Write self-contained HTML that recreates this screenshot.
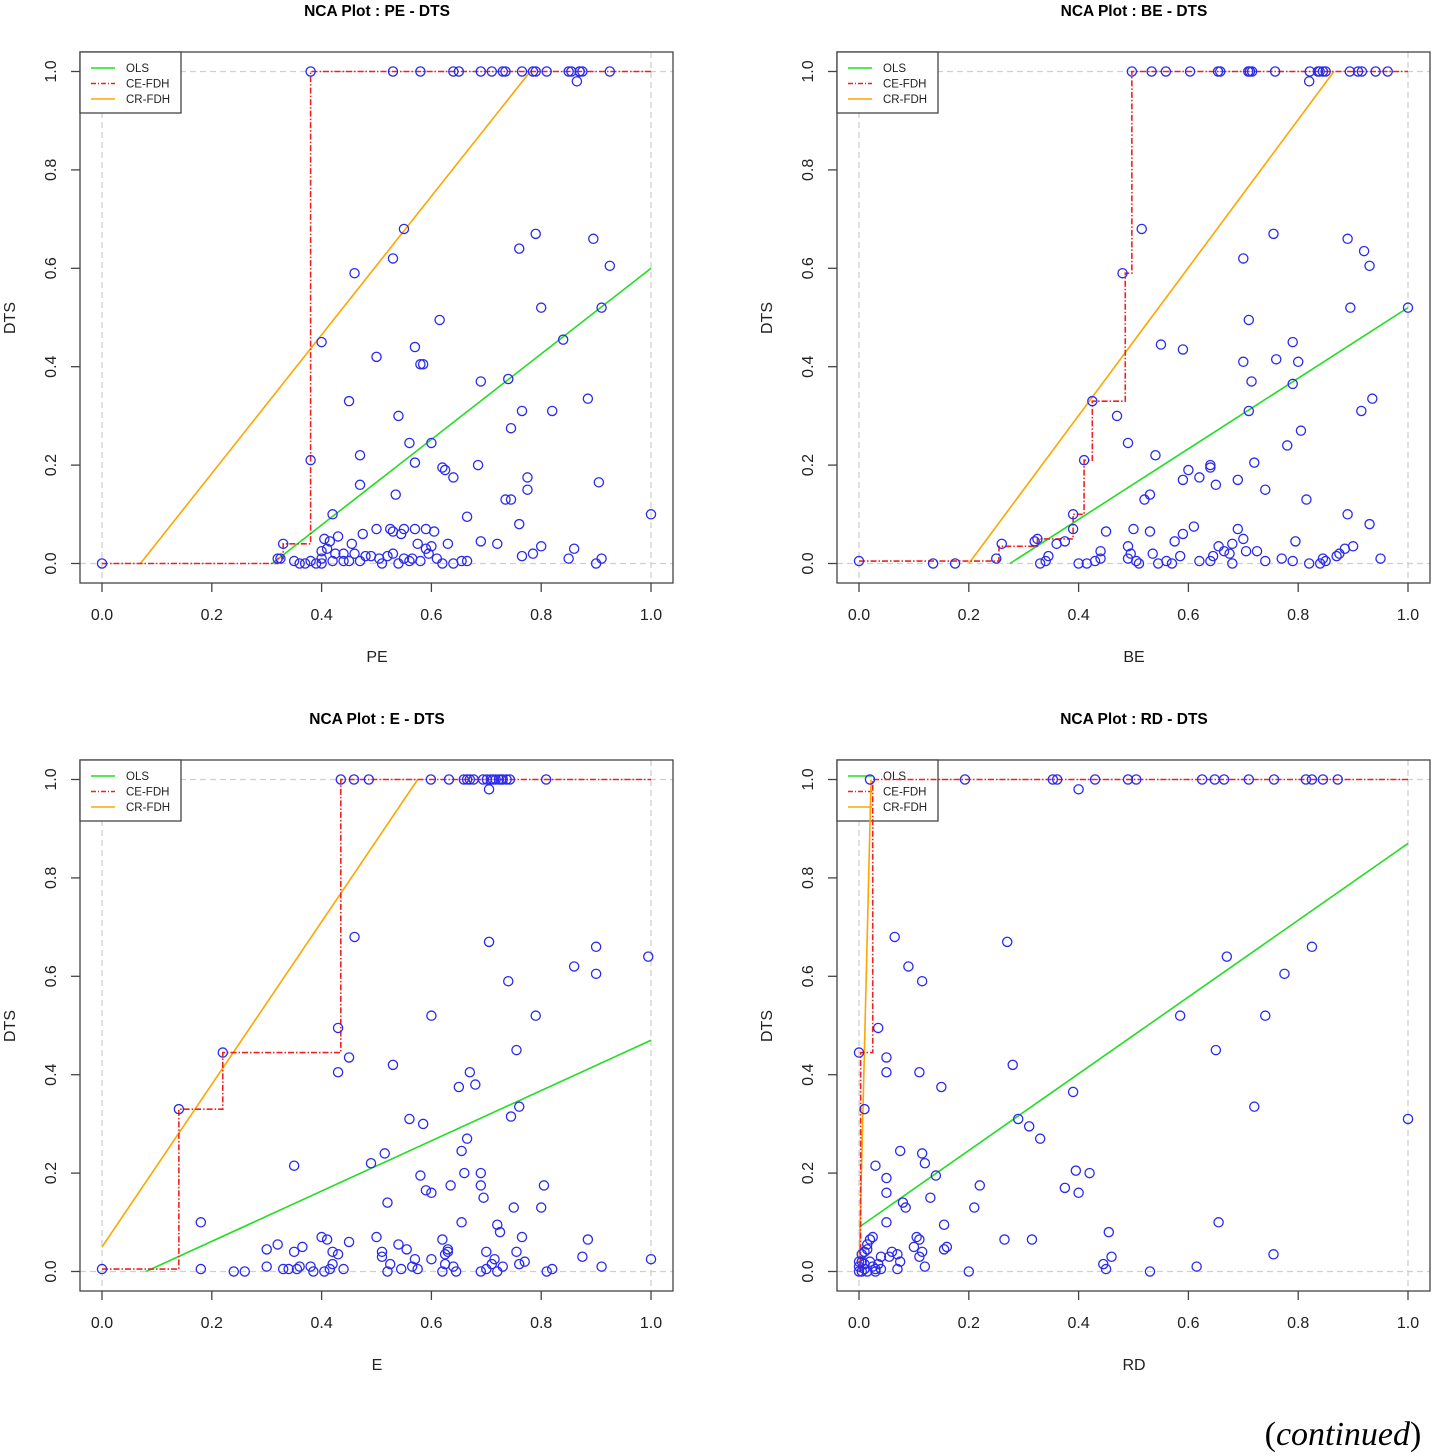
<!DOCTYPE html>
<html><head><meta charset="utf-8"><style>
html,body{margin:0;padding:0;background:#fff;}
svg{display:block;font-family:"Liberation Sans",sans-serif;}
</style></head><body>
<svg id="chart" width="1435" height="1456" viewBox="0 0 1435 1456" xmlns="http://www.w3.org/2000/svg">
<text x="1343" y="1445" text-anchor="middle" font-family="Liberation Serif, serif" font-size="34">(<tspan font-style="italic">continued</tspan>)</text>
</svg>
<script>
const titles = ["NCA Plot : PE - DTS","NCA Plot : BE - DTS","NCA Plot : E - DTS","NCA Plot : RD - DTS"];
const xLabels = ["PE","BE","E","RD"];
const tickVals = [0,0.2,0.4,0.6,0.8,1.0];
const tickLabels = ["0.0","0.2","0.4","0.6","0.8","1.0"];

const pePoints = [[.38,1],[.53,1],[.58,1],[.64,1],[.65,1],[.69,1],[.71,1],[.73,1],[.735,1],[.765,1],[.785,1],[.79,1],[.81,1],[.85,1],[.855,1],[.87,1],[.87,1],[.875,1],[.925,1],[.865,.98],
[0,0],[.38,.21],[.33,.04],[.32,.01],[.325,.01],[.40,.45],[.46,.59],[.53,.62],[.55,.68],[.45,.33],[.5,.42],[.57,.44],[.58,.405],[.585,.405],[.615,.495],[.54,.3],[.56,.245],[.6,.245],[.47,.22],[.57,.205],[.62,.195],[.625,.19],[.64,.175],[.47,.16],[.535,.14],[.42,.1],[.69,.37],[.685,.2],[.74,.375],[.76,.64],[.79,.67],[.8,.52],[.84,.455],[.895,.66],[.925,.605],[.91,.52],[.765,.31],[.82,.31],[.885,.335],[.745,.275],[.775,.175],[.775,.15],[.735,.13],[.745,.13],[.905,.165],[1.0,.1],[.76,.08],[.665,.095],[.69,.045],[.72,.04],[.8,.035],[.86,.03],[.785,.02],[.765,.015],[.85,.01],[.91,.01],[.9,0],[.35,.005],[.37,0],[.38,.005],[.39,0],[.40,.01],[.40,.025],[.41,.03],[.405,.05],[.415,.045],[.42,.005],[.425,.02],[.43,.055],[.44,.02],[.45,.005],[.455,.04],[.46,.02],[.47,.005],[.475,.06],[.48,.015],[.49,.015],[.5,.07],[.505,.01],[.51,0],[.52,.015],[.525,.07],[.53,.02],[.54,0],[.545,.06],[.55,.07],[.55,.01],[.56,.005],[.565,.01],[.57,.07],[.575,.04],[.58,.005],[.59,.07],[.59,.03],[.595,.02],[.6,.035],[.605,.065],[.61,.01],[.62,0],[.63,.04],[.64,0],[.655,.005],[.665,.005],[.36,0],[.4,0],[.44,.005],[.53,.065]];
const bePoints = [[.497,1],[.533,1],[.559,1],[.603,1],[.654,1],[.658,1],[.709,1],[.712,1],[.716,1],[.758,1],[.821,1],[.836,1],[.839,1],[.845,1],[.85,1],[.894,1],[.909,1],[.916,1],[.941,1],[.963,1],[.82,.98],
[0,.005],[.135,0],[.175,0],[.25,.01],[.26,.04],[.32,.045],[.325,.05],[.33,0],[.34,.005],[.345,.015],[.36,.04],[.375,.045],[.39,.07],[.39,.1],[.41,.21],[.425,.33],[.415,0],[.4,0],[.43,.005],[.44,.01],[.44,.025],[.45,.065],[.47,.3],[.48,.59],[.49,.245],[.49,.035],[.495,.02],[.5,.07],[.51,0],[.515,.68],[.52,.13],[.53,.14],[.54,.22],[.53,.065],[.535,.02],[.545,0],[.55,.445],[.59,.435],[.59,.17],[.6,.19],[.62,.175],[.64,.2],[.64,.195],[.65,.16],[.575,.045],[.585,.015],[.59,.06],[.61,.075],[.62,.005],[.64,.005],[.645,.015],[.655,.035],[.665,.025],[.675,.02],[.68,0],[.69,.07],[.7,.62],[.71,.495],[.715,.37],[.71,.31],[.7,.41],[.72,.205],[.69,.17],[.725,.025],[.74,.005],[.74,.15],[.755,.67],[.76,.415],[.77,.01],[.78,.24],[.79,.365],[.79,.45],[.8,.41],[.805,.27],[.815,.13],[.79,.005],[.795,.045],[.82,0],[.84,0],[.845,.01],[.85,.005],[.87,.015],[.875,.02],[.885,.03],[.89,.1],[.895,.52],[.89,.66],[.915,.31],[.92,.635],[.93,.605],[.935,.335],[.93,.08],[.9,.035],[.95,.01],[1.0,.52],[.7,.05],[.705,.025],[.68,.04],[.56,.005],[.57,0],[.505,.005],[.49,.01]];
const ePoints = [[.435,1],[.459,1],[.486,1],[.599,1],[.632,1],[.659,1],[.665,1],[.67,1],[.677,1],[.694,1],[.701,1],[.708,1],[.712,1],[.717,1],[.723,1],[.727,1],[.73,1],[.737,1],[.743,1],[.809,1],[.705,.98],
[0,.005],[.14,.33],[.22,.445],[.18,.1],[.18,.005],[.43,.495],[.43,.405],[.45,.435],[.46,.68],[.35,.215],[.42,.04],[.3,.045],[.3,.01],[.24,0],[.26,0],[.32,.055],[.33,.005],[.34,.005],[.35,.04],[.355,.005],[.36,.01],[.365,.05],[.38,.01],[.385,0],[.4,.07],[.405,0],[.41,.065],[.415,.005],[.42,.015],[.43,.035],[.44,.005],[.45,.06],[.49,.22],[.5,.07],[.51,.04],[.51,.03],[.52,0],[.525,.015],[.515,.24],[.52,.14],[.53,.42],[.54,.055],[.545,.005],[.555,.045],[.56,.31],[.565,.01],[.57,.025],[.575,.005],[.58,.195],[.585,.3],[.59,.165],[.6,.52],[.6,.16],[.6,.025],[.62,0],[.625,.015],[.63,.045],[.63,.04],[.635,.175],[.64,.01],[.645,0],[.65,.375],[.655,.245],[.66,.2],[.665,.27],[.67,.405],[.68,.38],[.69,.2],[.69,.175],[.695,.15],[.69,0],[.7,.005],[.705,.67],[.71,.015],[.715,.025],[.72,.095],[.725,.08],[.73,.01],[.74,.59],[.745,.315],[.75,.13],[.755,.45],[.76,.335],[.755,.04],[.76,.015],[.77,.02],[.79,.52],[.8,.13],[.805,.175],[.81,0],[.82,.005],[.86,.62],[.875,.03],[.885,.065],[.9,.66],[.9,.605],[.91,.01],[.995,.64],[1.0,.025],[.655,.1],[.7,.04],[.765,.07],[.72,0],[.62,.065],[.625,.035]];
const rdPoints = [[.02,1],[.193,1],[.353,1],[.361,1],[.43,1],[.49,1],[.505,1],[.625,1],[.648,1],[.665,1],[.71,1],[.756,1],[.814,1],[.825,1],[.845,1],[.872,1],[.40,.98],
[0,.445],[.01,.33],[.035,.495],[.05,.435],[.05,.405],[.03,.215],[.05,.19],[.05,.16],[.05,.1],[.065,.68],[.09,.62],[.115,.59],[.11,.405],[.15,.375],[.075,.245],[.115,.24],[.12,.22],[.085,.13],[.08,.14],[.105,.07],[.11,.065],[.1,.05],[.115,.04],[.11,.03],[.13,.15],[.14,.195],[.155,.095],[.16,.05],[.155,.045],[.12,.01],[.075,.02],[.07,.035],[.06,.04],[.04,.03],[.055,.03],[.07,.005],[.2,0],[.21,.13],[.22,.175],[.27,.67],[.28,.42],[.29,.31],[.31,.295],[.33,.27],[.265,.065],[.315,.065],[.375,.17],[.39,.365],[.395,.205],[.4,.16],[.42,.2],[.455,.08],[.445,.015],[.45,.005],[.46,.03],[.53,0],[.585,.52],[.65,.45],[.67,.64],[.655,.1],[.615,.01],[.72,.335],[.74,.52],[.775,.605],[.825,.66],[.755,.035],[1.0,.31],
[0,0],[0,.01],[.005,.02],[.005,.035],[.01,.005],[.01,.015],[.015,.055],[.015,0],[.02,.02],[.02,.065],[.025,.07],[.025,.01],[.03,0],[.03,.005],[.035,.015],[.04,.005],[.005,0],[.01,.04],[0,.02],[.015,.045]];

const olsLines = [[[.31,0],[1,.6]],[[.275,0],[1,.52]],[[.08,0],[1,.47]],[[0,.09],[1,.87]]];
const crLines = [[[.07,0],[.78,1]],[[.2,0],[.865,1]],[[0,.05],[.575,1]],[[0,0],[.022,1]]];
const ceSteps = [
 [[0,0],[.32,0],[.32,.01],[.33,.01],[.33,.04],[.38,.04],[.38,1],[1,1]],
 [[0,.005],[.255,.005],[.255,.035],[.325,.035],[.325,.05],[.39,.05],[.39,.1],[.41,.1],[.41,.21],[.425,.21],[.425,.33],[.485,.33],[.485,.59],[.497,.59],[.497,1],[1,1]],
 [[0,.005],[.14,.005],[.14,.33],[.22,.33],[.22,.445],[.435,.445],[.435,1],[1,1]],
 [[0,0],[.003,0],[.003,.445],[.025,.445],[.025,1],[1,1]]];
const allPoints = [pePoints,bePoints,ePoints,rdPoints];

const NS="http://www.w3.org/2000/svg";
const svg=document.getElementById('chart');
function mk(tag,attrs,parent){const e=document.createElementNS(NS,tag);for(const k in attrs)e.setAttribute(k,attrs[k]);(parent||svg).appendChild(e);return e;}

for(let p=0;p<4;p++){
  const dx=(p%2)*757, dy=Math.floor(p/2)*708;
  const X=v=>102+dx+v*549;
  const Y=v=>563.5+dy-v*492;
  const g=mk('g',{});
  
  
  const t=mk('text',{x:377+dx,y:16+dy,'text-anchor':'middle','font-size':'15.5','font-weight':'bold'},g);
  t.textContent=titles[p];
  
  
  [0,1].forEach(v=>{
    mk('line',{x1:X(v),x2:X(v),y1:52+dy,y2:583+dy,stroke:'#d0d0d0','stroke-dasharray':'6,4','stroke-width':1.3},g);
    mk('line',{x1:80+dx,x2:673+dx,y1:Y(v),y2:Y(v),stroke:'#d0d0d0','stroke-dasharray':'6,4','stroke-width':1.3},g);
  });
  const box=mk('rect',{x:80+dx,y:52+dy,width:593,height:531,fill:'none',stroke:'#444','stroke-width':1.3},g);
  
  
  tickVals.forEach((v,i)=>{
    mk('line',{x1:X(v),x2:X(v),y1:583+dy,y2:592+dy,stroke:'#444','stroke-width':1.3},g);
    const tx=mk('text',{x:X(v),y:620+dy,'text-anchor':'middle','font-size':'16',fill:'#222'},g);
    tx.textContent=tickLabels[i];
    
    
    mk('line',{x1:71+dx,x2:80+dx,y1:Y(v),y2:Y(v),stroke:'#444','stroke-width':1.3},g);
    const ty=mk('text',{x:0,y:0,'text-anchor':'middle','font-size':'16',fill:'#222',transform:`translate(${56+dx},${Y(v)}) rotate(-90)`},g);
    ty.textContent=tickLabels[i];
    
    
  });
  const xl=mk('text',{x:377+dx,y:662+dy,'text-anchor':'middle','font-size':'16',fill:'#222'},g);
  xl.textContent=xLabels[p];
  
  
  const yl=mk('text',{x:0,y:0,'text-anchor':'middle','font-size':'16',fill:'#222',transform:`translate(${15+dx},${318+dy}) rotate(-90)`},g);
  yl.textContent='DTS';
  
  
  const lg=mk('g',{},g);
  
  
  mk('rect',{x:80+dx,y:52+dy,width:101,height:61,fill:'#fff',stroke:'#444','stroke-width':1.3},lg);
  const leg=[['OLS','#22dd22',''],['CE-FDH','#ee2222','5,2,1,2'],['CR-FDH','#ffa500','']];
  leg.forEach((L,i)=>{
    const yy=68+dy+i*15.5;
    mk('line',{x1:91+dx,x2:115+dx,y1:yy,y2:yy,stroke:L[1],'stroke-width':1.5,'stroke-dasharray':L[2]||'none'},lg);
    const tx=mk('text',{x:126+dx,y:yy+4,'font-size':'11.5',fill:'#222'},lg);
    tx.textContent=L[0];
    
    
  });
  const o=olsLines[p];
  const ol=mk('line',{x1:X(o[0][0]),y1:Y(o[0][1]),x2:X(o[1][0]),y2:Y(o[1][1]),stroke:'#22dd22','stroke-width':1.6},g);
  
  
  const c=crLines[p];
  const cl=mk('line',{x1:X(c[0][0]),y1:Y(c[0][1]),x2:X(c[1][0]),y2:Y(c[1][1]),stroke:'#ffa500','stroke-width':1.6},g);
  
  
  const ce=mk('polyline',{points:ceSteps[p].map(q=>X(q[0])+','+Y(q[1])).join(' '),fill:'none',stroke:'#ee2222','stroke-width':1.6,'stroke-dasharray':'6,2,1.5,2'},g);
  
  
  allPoints[p].forEach(q=>{
    const ci=mk('circle',{cx:X(q[0]),cy:Y(q[1]),r:4.6,fill:'none',stroke:'#2a2aee','stroke-width':1.3},g);
    
    
  });
}
</script>
</body></html>
